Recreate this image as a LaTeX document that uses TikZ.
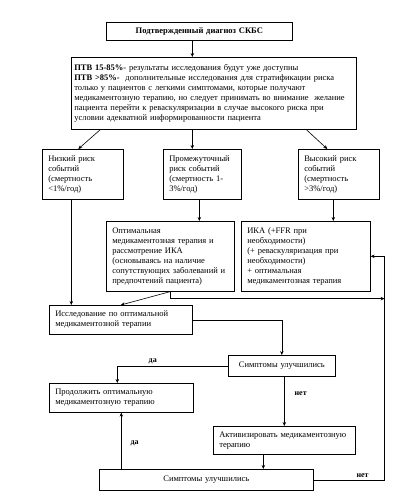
\documentclass[tikz,border=0pt]{standalone}
\usepackage{fontspec}
\setmainfont{Liberation Serif}
\usetikzlibrary{arrows.meta}

\tikzset{
	block/.style={draw, line width=0.6pt, rectangle, anchor=north west, align=left, inner xsep=6pt, inner ysep=2pt, font=\fontsize{8.5}{10}\selectfont},
	arr/.style={line width=0.6pt, -{Stealth[length=4pt,width=3.5pt]}},
	lbl/.style={font=\fontsize{8}{10}\selectfont\bfseries, inner sep=2pt}
}

\begin{document}
\begin{tikzpicture}[x=1pt, y=-1pt]
		\def\railGap{14pt} % distance of the return line from the right box
		
		\useasboundingbox (0,0) rectangle (416,500);
		
		% Top of the chart
		\node[block, align=center, text width=174pt, minimum height=18pt] (diag) at (106,22) {\textbf{Подтвержденный диагноз СКБС}};
		\node[block, inner xsep=3pt, text width=279pt, minimum height=72pt] (ptv) at (71,57) {\textbf{ПТВ 15-85\%}- результаты исследования будут уже доступны\\
			\textbf{ПТВ >85\%-}\ \ дополнительные исследования для стратификации риска\\
			только у пациентов с легкими симптомами, которые получают\\
			медикаментозную терапию, но следует принимать во внимание\ \ желание\\
			пациента перейти к реваскуляризации в случае высокого риска при\\
			условии адекватной информированности пациента};
		
		% Risk groups
		\node[block, text width=69pt, minimum height=50pt] (low) at (42,149) {Низкий риск\\событий\\(смертность\\<1\%/год)};
		\node[block, text width=66pt, minimum height=50pt] (mid) at (163,149) {Промежуточный\\риск событий\\(смертность 1-\\3\%/год)};
		\node[block, text width=69pt, minimum height=50pt] (high) at (298,149) {Высокий риск\\событий\\(смертность\\>3\%/год)};
		
		% Therapy options
		\node[block, text width=116pt, minimum height=70pt] (omt) at (106,221) {Оптимальная\\медикаментозная терапия и\\рассмотрение ИКА\\(основываясь на наличие\\сопутствующих заболеваний и\\предпочтений пациента)};
		\node[block, text width=117pt, minimum height=70pt] (ika) at (241,221) {ИКА (+FFR при\\необходимости)\\(+ реваскуляризация при\\необходимости)\\+ оптимальная\\медикаментозная терапия};
		
		% Follow-up
		\node[block, text width=131pt, minimum height=29pt] (study) at (49,305) {Исследование по оптимальной\\медикаментозной терапии};
		\node[block, align=center, text width=95pt, minimum height=21pt] (sym1) at (228,355) {Симптомы улучшились};
		\node[block, text width=132pt, minimum height=29pt] (cont) at (49,383) {Продолжить оптимальную\\медикаментозную терапию};
		\node[block, text width=130pt, minimum height=28pt] (activ) at (213,426) {Активизировать медикаментозную\\терапию};
		\node[block, align=center, text width=202pt, minimum height=21pt] (sym2) at (99,469) {Симптомы улучшились};
		
		\coordinate (rail) at ([xshift=\railGap]ika.east);
		
		% Connectors
		\draw[arr] ([xshift=-7pt]diag.south) -- ([xshift=-7pt]diag.south |- ptv.north);
		\draw[arr] ([xshift=-113.5pt]ptv.south) -- ([xshift=-4.5pt]low.north);
		\draw[arr] ([xshift=-21.5pt]ptv.south) -- ([xshift=-21.5pt]ptv.south |- mid.north);
		\draw[arr] ([xshift=92.5pt]ptv.south) -- ([xshift=-11.5pt]high.north);
		
		\draw[arr] ([xshift=-11.5pt]low.south) -- ([xshift=-11.5pt]low.south |- study.north);
		\draw[arr] ([xshift=-3pt]mid.south) -- ([xshift=-3pt]mid.south |- omt.north);
		\draw[arr] ([xshift=-5.5pt]high.south) -- ([xshift=-5.5pt]high.south |- ika.north);
		
		\draw[arr] (omt.south) -- (study.north);
		\draw[arr] (omt.south) -- ++(0,7) coordinate (omtTurn) -- (omtTurn -| rail);
		
		\draw[arr] (study.east) -| (sym1.north);
		\draw[arr] (sym1.west) -| ([xshift=-4pt]cont.north) node[lbl, above, pos=0.34] {да};
		\draw[arr] (activ.north |- sym1.south) -- (activ.north) node[lbl, right, xshift=8pt, pos=0.35] {нет};
		\draw[arr] ([xshift=-21pt]activ.south) -- ([xshift=-21pt]activ.south |- sym2.north);
		\draw[arr] (cont.south |- sym2.north) -- (cont.south) node[lbl, right, xshift=7pt, pos=0.46] {да};
		\draw[arr] (sym2.east) -| (rail) node[lbl, above, pos=0.345] {нет} -- (ika.east);
	\end{tikzpicture}
\end{document}
